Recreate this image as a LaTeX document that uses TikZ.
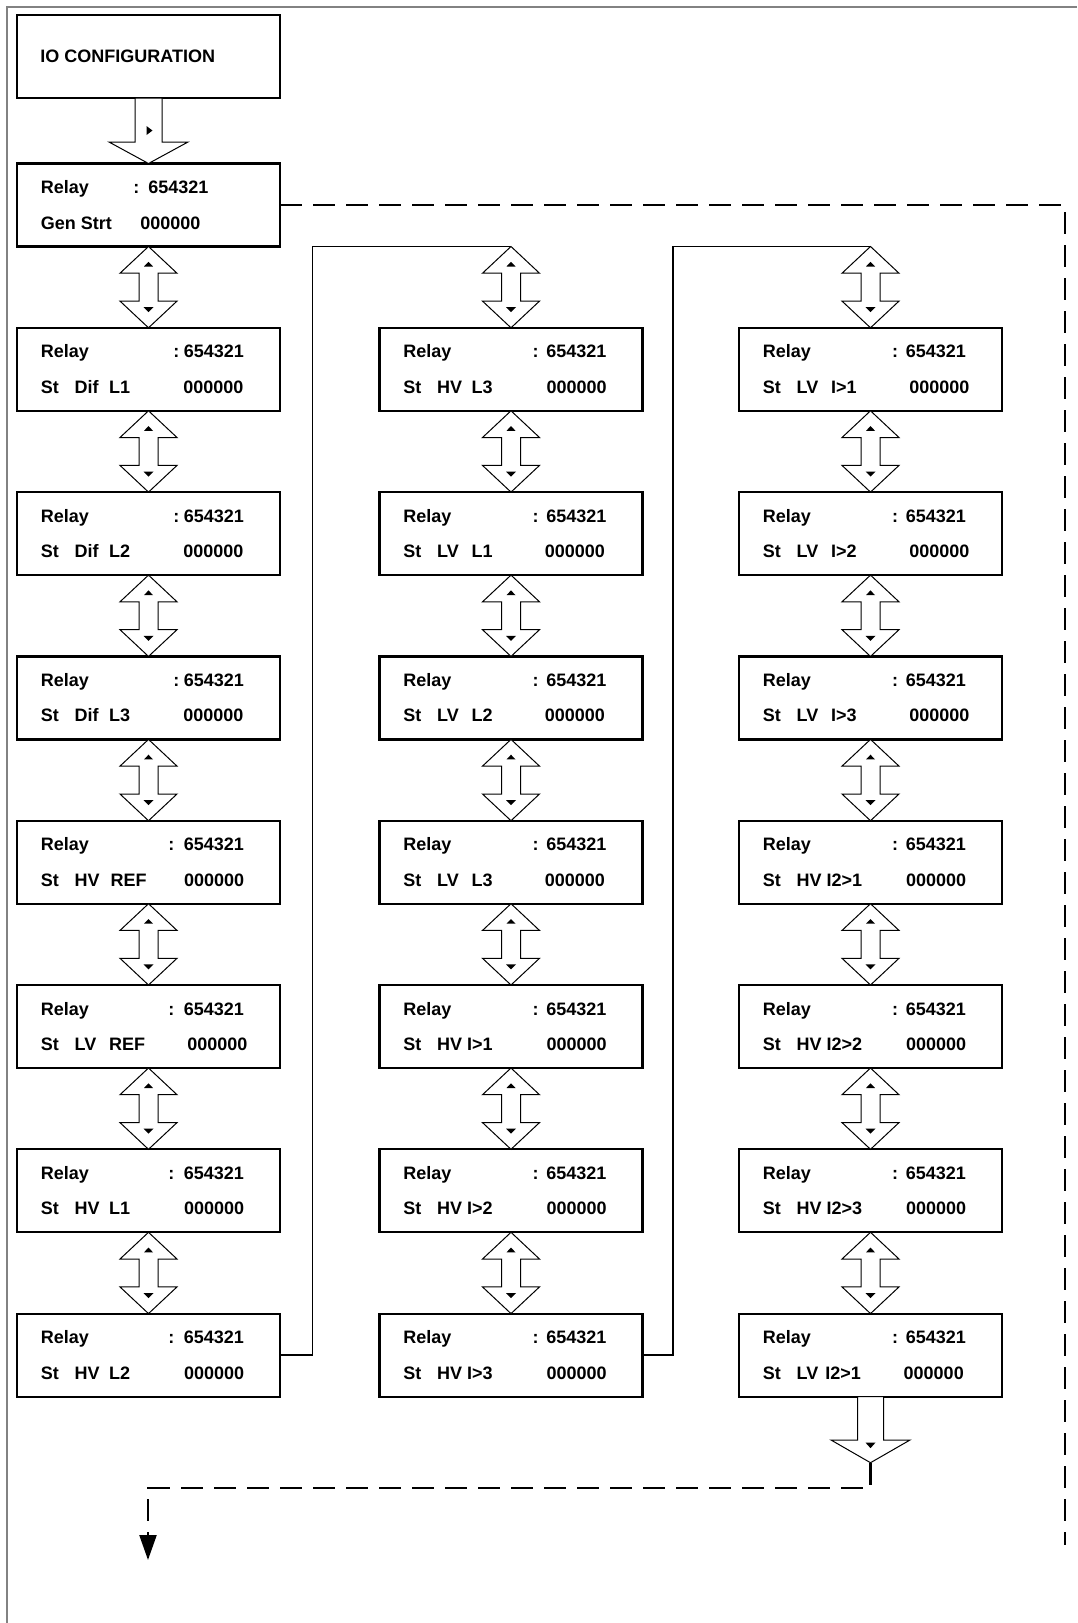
\documentclass[tikz,border=0pt]{standalone}
\usepackage{fontspec}
\setmainfont{Liberation Sans}[BoldFont={Liberation Sans Bold}]
\usetikzlibrary{calc,arrows.meta}
\definecolor{framegray}{RGB}{130,130,130}
\tikzset{
  rbox/.style={draw, line width=1.1pt, minimum width=131.5pt, minimum height=41.5pt,
    inner sep=0pt, outer sep=0pt, anchor=north west},
  txt/.style={inner sep=0pt, anchor=base west, font=\fontsize{9}{10.8}\selectfont\bfseries},
  harrow/.style={draw, line width=0.5pt, fill=white, line join=miter},
  dsh/.style={line width=1.15pt, dash pattern=on 11pt off 5.5pt},
  linkline/.style={line width=0.9pt},
  pt/.style={inner sep=0pt, minimum size=0pt, outer sep=0pt},
}
% #1 name, #2 x, #3 y, #4 word2, #5 word3, #6 word3 x, #7 colon x, #8 zeros x
\newcommand\rlybox[8]{%
  \node[rbox] (#1) at (#2,#3) {};
  \node[txt] (#1-a) at ($(#1.north west)+(23.5,30)$) {Relay};
  \node[txt] (#1-b) at ($(#1.north west)+(#7,30)$) {:};
  \node[txt] (#1-c) at ($(#1.north west)+(166.5,30)$) {654321};
  \node[txt] (#1-d) at ($(#1.north west)+(23.5,65.5)$) {St};
  \node[txt] (#1-e) at ($(#1.north west)+(57.3,65.5)$) {#4};
  \node[txt] (#1-f) at ($(#1.north west)+(#6,65.5)$) {#5};
  \node[txt] (#1-g) at ($(#1.north west)+(#8,65.5)$) {000000};
}
\newcommand\udarr[2]{%
  \draw[harrow] (#1) -- ++(28.5,26.7) -- ++(-19,0) -- ++(0,27.9) -- ++(19,0) -- (#2)
    -- ++(-28.5,-26.7) -- ++(19,0) -- ++(0,-27.9) -- ++(-19,0) -- cycle;
  \fill ($(#1)+(0,15.3)$) -- ++(4.5,4.7) -- ++(-9,0) -- cycle;
  \fill ($(#2)+(0,-15.6)$) -- ++(5,-5) -- ++(-10,0) -- cycle;
}
\begin{document}
\begin{tikzpicture}[x=0.5pt,y=-0.5pt]
\useasboundingbox (0,0) rectangle (1077,1623);
\fill[white] (0,0) rectangle (1077,1623);
% frame
\draw[framegray, line width=1pt] (1077,6.7) -- (6.7,6.7) -- (6.7,1623);

% IO configuration
\node[rbox] (io) at (17,15) {};
\node[txt] (iot) at ($(io.north west)+(23,47.7)$) {IO CONFIGURATION};

% Gen Strt box
\node[rbox] (gen) at (17,163.5) {};
\node[txt] (gen-a) at ($(gen.north west)+(23.5,30)$) {Relay};
\node[txt] (gen-b) at ($(gen.north west)+(116,30)$) {:};
\node[txt] (gen-c) at ($(gen.north west)+(131,30)$) {654321};
\node[txt] (gen-d) at ($(gen.north west)+(23.5,65.5)$) {Gen Strt};
\node[txt] (gen-g) at ($(gen.north west)+(123,65.5)$) {000000};

% column 1
\rlybox{c1r1}{17}{327.8}{Dif}{L1}{91.7}{156}{166}
\rlybox{c1r2}{17}{492.1}{Dif}{L2}{91.7}{156}{166}
\rlybox{c1r3}{17}{656.4}{Dif}{L3}{91.7}{156}{166}
\rlybox{c1r4}{17}{820.7}{HV}{REF}{93.3}{151}{166.7}
\rlybox{c1r5}{17}{985}{LV}{REF}{91.7}{151}{170}
\rlybox{c1r6}{17}{1149.3}{HV}{L1}{91.7}{151}{166.7}
\rlybox{c1r7}{17}{1313.6}{HV}{L2}{91.7}{151}{166.7}

% column 2
\rlybox{c2r1}{379.5}{327.8}{HV}{L3}{91.7}{152.7}{166.7}
\rlybox{c2r2}{379.5}{492.1}{LV}{L1}{91.7}{152.7}{165}
\rlybox{c2r3}{379.5}{656.4}{LV}{L2}{91.7}{152.7}{165}
\rlybox{c2r4}{379.5}{820.7}{LV}{L3}{91.7}{152.7}{165}
\rlybox{c2r5}{379.5}{985}{HV}{I>1}{87.3}{152.7}{166.7}
\rlybox{c2r6}{379.5}{1149.3}{HV}{I>2}{87.3}{152.7}{166.7}
\rlybox{c2r7}{379.5}{1313.6}{HV}{I>3}{87.3}{152.7}{166.7}

% column 3
\rlybox{c3r1}{739}{327.8}{LV}{I>1}{91.7}{152.7}{170}
\rlybox{c3r2}{739}{492.1}{LV}{I>2}{91.7}{152.7}{170}
\rlybox{c3r3}{739}{656.4}{LV}{I>3}{91.7}{152.7}{170}
\rlybox{c3r4}{739}{820.7}{HV}{I2>1}{87.3}{152.7}{166.7}
\rlybox{c3r5}{739}{985}{HV}{I2>2}{87.3}{152.7}{166.7}
\rlybox{c3r6}{739}{1149.3}{HV}{I2>3}{87.3}{152.7}{166.7}
\rlybox{c3r7}{739}{1313.6}{LV}{I2>1}{86}{152.7}{164.3}

% top single arrow
\draw[harrow] ($(io.south)+(-13.5,0)$) -- ++(0,44) -- ++(-26,0) -- (gen.north)
  -- ++(39.5,-21.5) -- ++(-26,0) -- ++(0,-44) -- cycle;
\fill ($(io.south)+(-2,28)$) -- ++(0,9) -- ++(6,-4.5) -- cycle;

% double arrows column 1
\udarr{gen.south}{c1r1.north}
\udarr{c1r1.south}{c1r2.north}
\udarr{c1r2.south}{c1r3.north}
\udarr{c1r3.south}{c1r4.north}
\udarr{c1r4.south}{c1r5.north}
\udarr{c1r5.south}{c1r6.north}
\udarr{c1r6.south}{c1r7.north}

% link to column 2
\node[pt] (t2) at ($(c2r1.north)+(0,-81.3)$) {};
\draw[linkline] (c1r7.east) -- ++(32.5,0) |- (t2);
\udarr{t2}{c2r1.north}
\udarr{c2r1.south}{c2r2.north}
\udarr{c2r2.south}{c2r3.north}
\udarr{c2r3.south}{c2r4.north}
\udarr{c2r4.south}{c2r5.north}
\udarr{c2r5.south}{c2r6.north}
\udarr{c2r6.south}{c2r7.north}

% link to column 3
\node[pt] (t3) at ($(c3r1.north)+(0,-81.3)$) {};
\draw[linkline] (c2r7.east) -- ++(30.5,0) |- (t3);
\udarr{t3}{c3r1.north}
\udarr{c3r1.south}{c3r2.north}
\udarr{c3r2.south}{c3r3.north}
\udarr{c3r3.south}{c3r4.north}
\udarr{c3r4.south}{c3r5.north}
\udarr{c3r5.south}{c3r6.north}
\udarr{c3r6.south}{c3r7.north}

% bottom single arrow
\coordinate (tip3) at ($(c3r7.south)+(0,66.1)$);
\draw[harrow] ($(c3r7.south)+(-13,0)$) -- ++(0,43.4) -- ++(-26.5,0) -- (tip3)
  -- ++(39.5,-22.7) -- ++(-26.5,0) -- ++(0,-43.4) -- cycle;
\fill ($(c3r7.south)+(-5,46)$) -- ++(10,0) -- ++(-5,5.6) -- cycle;

% dashed connectors
\coordinate (rc) at (1065,205);
\coordinate (rb) at (1065,1545);
\draw[dsh] (gen.east) -- (rc) -- (rb);
\coordinate (bl) at (148,1488);
\coordinate (bend) at (148,1560);
\draw[dsh, -{Triangle[width=8.5pt,length=12.5pt]}] (tip3) |- (bl) -- (bend);
\end{tikzpicture}
\end{document}
